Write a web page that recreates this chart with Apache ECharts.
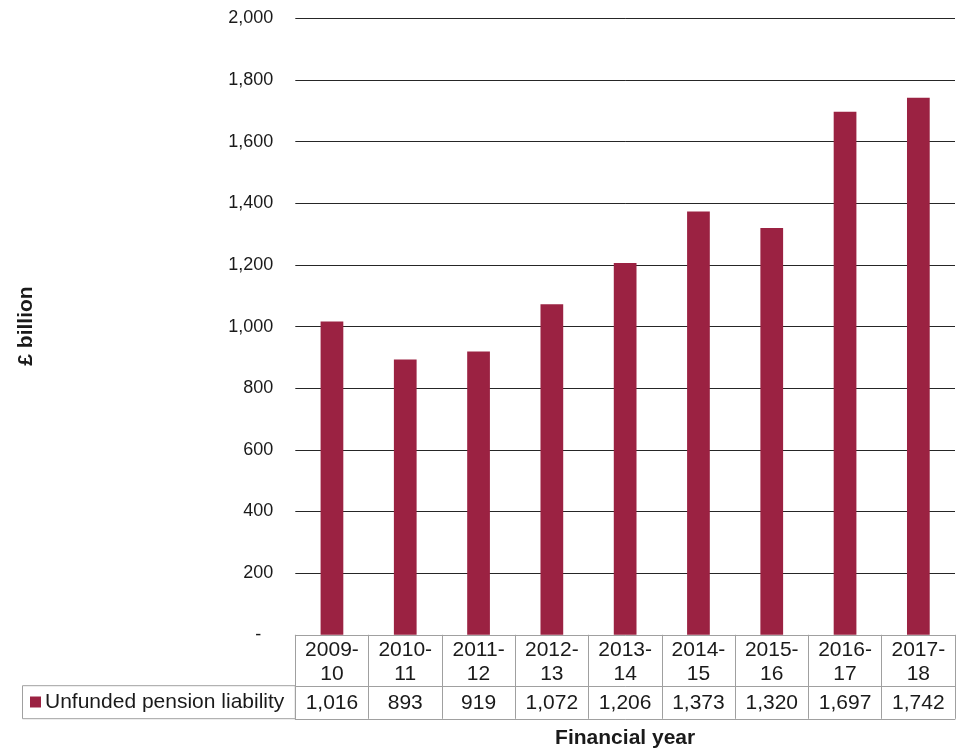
<!DOCTYPE html>
<html>
<head>
<meta charset="utf-8">
<script src="https://cdn.jsdelivr.net/npm/echarts@6/dist/echarts.min.js"></script>
<style>html,body{margin:0;padding:0;background:#fff;}#c{width:958px;height:751px;}</style>
</head>
<body>
<div id="c"></div>
<script>
const categories = ['2009-10', '2010-11', '2011-12', '2012-13', '2013-14', '2014-15', '2015-16', '2016-17', '2017-18'];
const liability = [1016, 893, 919, 1072, 1206, 1373, 1320, 1697, 1742];
const seriesName = 'Unfunded pension liability';
const yMin = 0, yMax = 2000, yStep = 200;
const yTitle = '£ billion';
const xTitle = 'Financial year';

const fmt = v => v.toLocaleString('en-US');
const FONT = 'Liberation Sans, Arial, sans-serif';
const GREY = '#a0a0a0';
const TXT = '#1a1a1a';

const chart = echarts.init(document.getElementById('c'), null, {renderer: 'canvas'});
chart.setOption({
  animation: false,
  backgroundColor: '#fff',
  textStyle: {fontFamily: FONT},
  grid: {left: 295.3, right: 3, top: 18.3, bottom: 116.2, containLabel: false, outerBoundsMode: 'none'},
  legend: {
    data: [seriesName],
    left: 30, top: 690, padding: 0,
    icon: 'rect', itemWidth: 11, itemHeight: 11, itemGap: 4,
    textStyle: {fontSize: 21, color: TXT, fontFamily: FONT, lineHeight: 24, padding: [0, 0, 0, -1]}
  },
  xAxis: [
    {
      type: 'category', data: categories, position: 'bottom',
      axisLine: {show: true, lineStyle: {color: GREY, width: 1}},
      axisTick: {show: true, length: 84, interval: 0, lineStyle: {color: GREY, width: 1}},
      axisLabel: {margin: 3, fontSize: 21, lineHeight: 24, color: TXT, fontFamily: FONT, interval: 0,
        formatter: v => v.replace('-', '-\n')},
      splitLine: {show: false}
    },
    {
      type: 'category', data: liability.map(fmt), position: 'bottom', offset: 51,
      axisLine: {show: true, lineStyle: {color: GREY, width: 1}},
      axisTick: {show: false},
      axisLabel: {margin: 5, fontSize: 21, lineHeight: 24, color: TXT, fontFamily: FONT, interval: 0},
      splitLine: {show: false}
    },
    {
      type: 'category', data: categories, position: 'bottom', offset: 84,
      axisLine: {show: true, lineStyle: {color: GREY, width: 1}},
      axisTick: {show: false},
      axisLabel: {show: false},
      name: xTitle, nameLocation: 'middle', nameGap: 7,
      nameTextStyle: {fontSize: 21, fontWeight: 'bold', color: TXT, fontFamily: FONT, lineHeight: 24, verticalAlign: 'top'}
    }
  ],
  yAxis: {
    type: 'value', min: yMin, max: yMax, interval: yStep,
    axisLine: {show: false}, axisTick: {show: false},
    splitLine: {show: true, showMinLine: false, lineStyle: {color: '#262626', width: 1}},
    axisLabel: {
      margin: 22, fontSize: 18, color: TXT, fontFamily: FONT,
      formatter: v => v === 0 ? '{z|-}' : fmt(v),
      rich: {z: {fontSize: 18, color: TXT, fontFamily: FONT, padding: [0, 12, 0, 0]}}
    }
  },
  graphic: [
    {type: 'rect', shape: {x: 22.5, y: 685.7, width: 272.8, height: 33}, style: {fill: 'none', stroke: GREY, lineWidth: 1}, z: 10},
    {type: 'text', x: 26, y: 326, rotation: Math.PI / 2,
      style: {text: yTitle, fontSize: 21, fontWeight: 'bold', fill: TXT, fontFamily: FONT, align: 'center', verticalAlign: 'middle'}}
  ],
  series: [{
    name: seriesName, type: 'bar', data: liability, barWidth: '31%',
    itemStyle: {color: '#9B2242'}
  }]
});
</script>
</body>
</html>
